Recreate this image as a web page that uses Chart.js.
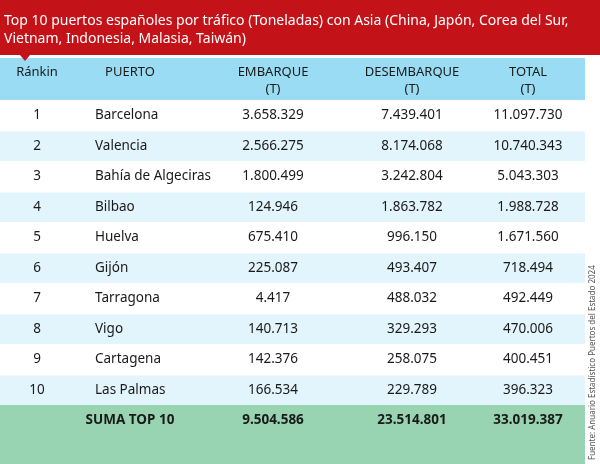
<!DOCTYPE html>
<html>
<head>
<meta charset="utf-8">
<script src="https://cdn.jsdelivr.net/npm/chart.js@4"></script>
<style>
  html, body { margin: 0; padding: 0; background: #fff; }
  #wrap { width: 600px; height: 464px; }
</style>
</head>
<body>
<div id="wrap"><canvas id="tabla"></canvas></div>
<script>
const titleLines = ["Top 10 puertos españoles por tráfico (Toneladas) con Asia (China, Japón, Corea del Sur,",
                    "Vietnam, Indonesia, Malasia, Taiwán)"];
const headers = [["Ránkin"], ["PUERTO"], ["EMBARQUE", "(T)"], ["DESEMBARQUE", "(T)"], ["TOTAL", "(T)"]];
const ranks = ["1", "2", "3", "4", "5", "6", "7", "8", "9", "10"];
const ports = ["Barcelona", "Valencia", "Bahía de Algeciras", "Bilbao", "Huelva", "Gijón", "Tarragona", "Vigo", "Cartagena", "Las Palmas"];
const embarque = ["3.658.329", "2.566.275", "1.800.499", "124.946", "675.410", "225.087", "4.417", "140.713", "142.376", "166.534"];
const desembarque = ["7.439.401", "8.174.068", "3.242.804", "1.863.782", "996.150", "493.407", "488.032", "329.293", "258.075", "229.789"];
const total = ["11.097.730", "10.740.343", "5.043.303", "1.988.728", "1.671.560", "718.494", "492.449", "470.006", "400.451", "396.323"];
const sumRow = ["", "SUMA TOP 10", "9.504.586", "23.514.801", "33.019.387"];
const source = "Fuente: Anuario Estadístico Puertos del Estado 2024";

const FONT = "'Noto Sans', sans-serif";
// column anchors: [x, align]
const cols = [[37, "center"], [95, "left"], [273, "center"], [412, "center"], [528, "center"]];
const headCols = [[37, "center"], [130, "center"], [273, "center"], [412, "center"], [528, "center"]];

const tablePlugin = {
  id: "tablePlugin",
  beforeDraw(chart) {
    const ctx = chart.ctx;
    const y = chart.scales.y;
    const right = 585;
    ctx.save();
    // title band
    ctx.fillStyle = "#c41219";
    ctx.fillRect(0, 0, 600, 55);
    ctx.fillStyle = "#fff";
    ctx.font = "14px " + FONT;
    ctx.textAlign = "left"; ctx.textBaseline = "middle";
    titleLines.forEach((t, i) => ctx.fillText(t, 4, 21 + i * 18));
    // header row
    ctx.fillStyle = "#9adcf3";
    ctx.fillRect(0, 58, right, y.top - 58);
    ctx.beginPath();
    ctx.fillStyle = "#c41219";
    ctx.moveTo(20, 55); ctx.lineTo(30, 55); ctx.lineTo(25, 61); ctx.closePath(); ctx.fill();
    ctx.fillStyle = "#1a1a1a";
    ctx.font = "13px " + FONT;
    headers.forEach((h, c) => {
      ctx.textAlign = headCols[c][1];
      ctx.fillText(h[0], headCols[c][0], 72);
      if (h.length > 1) ctx.fillText(h[1], headCols[c][0], 89);
    });
    // body rows
    const step = (y.bottom - y.top) / ranks.length;
    ranks.forEach((r, i) => {
      const cy = y.getPixelForValue(i);
      ctx.fillStyle = i % 2 ? "#e2f4fc" : "#ffffff";
      ctx.fillRect(0, cy - step / 2 + 1, right, step - 1);
      ctx.fillStyle = "#1a1a1a";
      ctx.font = "13.5px " + FONT;
      [r, ports[i], embarque[i], desembarque[i], total[i]].forEach((v, c) => {
        ctx.textAlign = cols[c][1];
        ctx.fillText(v, cols[c][0], cy);
      });
    });
    // sum row
    ctx.fillStyle = "#98d4b1";
    ctx.fillRect(0, y.bottom, right, 464 - y.bottom);
    ctx.fillStyle = "#1a1a1a";
    ctx.font = "bold 13.5px " + FONT;
    const sy = y.bottom + 15;
    sumRow.forEach((v, c) => {
      ctx.textAlign = "center";
      ctx.fillText(v, headCols[c][0], sy);
    });
    // vertical source
    ctx.translate(593, 464);
    ctx.rotate(-Math.PI / 2);
    ctx.fillStyle = "#555";
    ctx.font = "8px " + FONT;
    ctx.textAlign = "left";
    ctx.fillText(source, 4, 0);
    ctx.restore();
  }
};

new Chart(document.getElementById("tabla"), {
  type: "bar",
  data: {
    labels: ports,
    datasets: [{ data: ports.map(() => 0), backgroundColor: "rgba(0,0,0,0)" }]
  },
  options: {
    indexAxis: "y",
    responsive: true,
    maintainAspectRatio: false,
    animation: false,
    layout: { padding: { top: 100, bottom: 59, left: 0, right: 15 } },
    plugins: { legend: { display: false }, tooltip: { enabled: false } },
    scales: {
      x: { display: false },
      y: { display: false }
    }
  },
  plugins: [tablePlugin]
});
</script>
</body>
</html>
